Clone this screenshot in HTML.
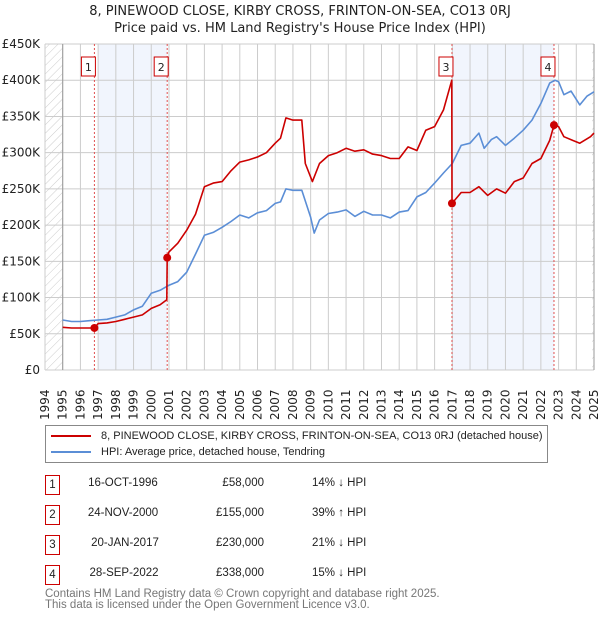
<!DOCTYPE html>
<html><head><meta charset="utf-8">
<style>
body{margin:0;background:#fff;font-family:"Liberation Sans","DejaVu Sans",sans-serif;}
#wrap{position:relative;width:600px;height:620px;overflow:hidden;}
svg text{font-family:"DejaVu Sans","Liberation Sans",sans-serif;}
.nw{white-space:nowrap;}
</style></head>
<body><div id="wrap">
<svg id="chart" width="600" height="620"></svg>
</div>
<script>
const hpiYears=[1995,1995.5,1996,1996.5,1997,1997.5,1998,1998.5,1999,1999.5,2000,2000.5,2001,2001.5,2002,2002.5,2003,2003.5,2004,2004.5,2005,2005.5,2006,2006.5,2007,2007.3,2007.6,2008,2008.5,2009,2009.2,2009.5,2010,2010.5,2011,2011.5,2012,2012.5,2013,2013.5,2014,2014.5,2015,2015.5,2016,2016.5,2017,2017.5,2018,2018.5,2018.8,2019.2,2019.5,2020,2020.5,2021,2021.5,2022,2022.5,2022.8,2023,2023.3,2023.7,2024.2,2024.6,2025];
const hpiValues=[69,67,67,68,69,70,73,76,83,88,106,110,117,122,135,160,186,190,197,205,214,210,217,220,230,232,250,248,248,211,189,207,216,218,221,212,219,214,214,210,218,220,239,245,258,272,285,310,313,327,306,318,322,310,320,331,345,368,396,400,398,380,385,366,378,384];
const priceYears=[1995,1995.5,1996,1996.5,1996.79,1997,1997.5,1998,1998.5,1999,1999.5,2000,2000.5,2000.88,2000.9,2001,2001.5,2002,2002.5,2003,2003.5,2004,2004.5,2005,2005.5,2006,2006.5,2007,2007.3,2007.6,2008,2008.5,2008.7,2009.1,2009.5,2010,2010.5,2011,2011.5,2012,2012.5,2013,2013.5,2014,2014.5,2015,2015.5,2016,2016.5,2016.97,2016.98,2017.5,2018,2018.5,2019,2019.5,2020,2020.5,2021,2021.5,2022,2022.5,2022.74,2023,2023.3,2023.8,2024.2,2024.8,2025];
const priceValues=[59,58,58,58,58,64,65,67,70,73,76,85,90,97,155,163,175,193,215,253,258,260,275,287,290,294,300,313,320,348,345,345,285,260,285,296,300,306,302,304,298,296,292,292,308,303,331,336,359,400,230,245,245,253,241,250,244,260,265,285,292,317,338,336,322,317,313,322,327];
const saleYears=[1996.79,2000.9,2016.98,2022.74];
const saleValues=[58,155,230,338];
const saleLabels=["1","2","3","4"];
const yTicks=[0,50,100,150,200,250,300,350,400,450];
const yTickLabels=["£0","£50K","£100K","£150K","£200K","£250K","£300K","£350K","£400K","£450K"];
const xTicks=[1994,1995,1996,1997,1998,1999,2000,2001,2002,2003,2004,2005,2006,2007,2008,2009,2010,2011,2012,2013,2014,2015,2016,2017,2018,2019,2020,2021,2022,2023,2024,2025];

const NS="http://www.w3.org/2000/svg";
const svg=document.getElementById('chart');
const X0=45,X1=594,Y0=370,Y1=44;
const xs=y=>X0+(y-1994)/(2025-1994)*(X1-X0);
const ys=v=>Y0-v/450*(Y0-Y1);
function mk(tag,attrs,parent){const e=document.createElementNS(NS,tag);for(const k in attrs)e.setAttribute(k,attrs[k]);(parent||svg).appendChild(e);return e;}

let t=mk('text',{x:300,y:15,'text-anchor':'middle','font-size':13,fill:'#222'});t.textContent="8, PINEWOOD CLOSE, KIRBY CROSS, FRINTON-ON-SEA, CO13 0RJ";


t=mk('text',{x:300,y:32,'text-anchor':'middle','font-size':13,fill:'#222'});t.textContent="Price paid vs. HM Land Registry's House Price Index (HPI)";



const defs=mk('defs',{});
const pat=mk('pattern',{id:'hatch',width:6,height:6,patternUnits:'userSpaceOnUse',patternTransform:'rotate(45)'},defs);
mk('line',{x1:0,y1:0,x2:0,y2:6,stroke:'#ccc','stroke-width':1},pat);
let r=mk('rect',{x:X0,y:Y1,width:xs(1995)-X0,height:Y0-Y1,fill:'url(#hatch)'});


r=mk('rect',{x:xs(2025)-2,y:Y1,width:2,height:Y0-Y1,fill:'url(#hatch)'});

[[1997,saleYears[1]],[saleYears[2],saleYears[3]]].forEach((b,i)=>{
 const s=mk('rect',{x:xs(b[0]),y:Y1,width:xs(b[1])-xs(b[0]),height:Y0-Y1,fill:'#eef3fc',opacity:0.8});
 
 
});

xTicks.forEach(y=>{
 const l=mk('line',{x1:xs(y),x2:xs(y),y1:Y1,y2:Y0,stroke:'#ccc','stroke-width':1});
 
 
 const tx=mk('text',{transform:`translate(${xs(y)+4},${Y0+50}) rotate(-90)`,'font-size':12,fill:'#222'});
 tx.textContent=y;
 
 
});
yTicks.forEach((v,i)=>{
 const l=mk('line',{x1:X0,x2:X1,y1:ys(v),y2:ys(v),stroke:'#ccc','stroke-width':1});
 
 
 const tx=mk('text',{x:X0-5,y:ys(v)+4,'text-anchor':'end','font-size':12,fill:'#222'});
 tx.textContent=yTickLabels[i];
 
 
});
mk('line',{x1:xs(1995),x2:xs(1995),y1:Y1,y2:Y0,stroke:'#999'});
mk('line',{x1:X1,x2:X1,y1:Y1,y2:Y0,stroke:'#999'});

saleYears.forEach((y,i)=>{
 const l=mk('line',{x1:xs(y),x2:xs(y),y1:Y1,y2:Y0,stroke:'#e05050','stroke-width':1,'stroke-dasharray':'2,2'});
 
 
 const bx=mk('rect',{x:xs(y)-13,y:57,width:14,height:19,fill:'#fff',stroke:'#c00'});
 
 
 const tx=mk('text',{x:xs(y)-6,y:71,'text-anchor':'middle','font-size':11,fill:'#222'});
 tx.textContent=saleLabels[i];
});

function path(xa,va,color,name){
 let d='';xa.forEach((y,i)=>{d+=(i?'L':'M')+xs(y).toFixed(1)+','+ys(va[i]).toFixed(1);});
 const p=mk('path',{d,fill:'none',stroke:color,'stroke-width':1.6,'stroke-linejoin':'round'});
 
 
}
path(hpiYears,hpiValues,'#5b8ed6','hpi-line');
path(priceYears,priceValues,'#cc0000','price-paid-line');
saleYears.forEach((y,i)=>{
 const c=mk('circle',{cx:xs(y),cy:ys(saleValues[i]),r:4,fill:'#cc0000'});
 
 
});
</script>
<div style="position:absolute;left:45px;top:425px;width:501px;height:36px;border:1px solid #888;font-size:11px;color:#222;">
 <div class="nw" style="position:absolute;left:5px;top:4px;"><span style="display:inline-block;width:40px;height:2px;background:#cc0000;vertical-align:middle;margin-right:10px;"></span>8, PINEWOOD CLOSE, KIRBY CROSS, FRINTON-ON-SEA, CO13 0RJ (detached house)</div>
 <div class="nw" style="position:absolute;left:5px;top:20px;"><span style="display:inline-block;width:40px;height:2px;background:#5b8ed6;vertical-align:middle;margin-right:10px;"></span>HPI: Average price, detached house, Tendring</div>
</div>
<div style="position:absolute;left:0;top:0;font-size:11.5px;color:#222;">
 <div>
  <div style="position:absolute;left:45px;top:475px;width:13px;height:18px;border:1px solid #c00;text-align:center;line-height:18px;">1</div>
  <div class="nw" style="position:absolute;left:83px;top:477px;width:80px;text-align:center;">16-OCT-1996</div>
  <div class="nw" style="position:absolute;left:184px;top:477px;width:80px;text-align:right;">£58,000</div>
  <div class="nw" style="position:absolute;left:312px;top:477px;">14% ↓ HPI</div>
 </div>
 <div>
  <div style="position:absolute;left:45px;top:505px;width:13px;height:18px;border:1px solid #c00;text-align:center;line-height:18px;">2</div>
  <div class="nw" style="position:absolute;left:83px;top:507px;width:80px;text-align:center;">24-NOV-2000</div>
  <div class="nw" style="position:absolute;left:184px;top:507px;width:80px;text-align:right;">£155,000</div>
  <div class="nw" style="position:absolute;left:312px;top:507px;">39% ↑ HPI</div>
 </div>
 <div>
  <div style="position:absolute;left:45px;top:535px;width:13px;height:18px;border:1px solid #c00;text-align:center;line-height:18px;">3</div>
  <div class="nw" style="position:absolute;left:85px;top:537px;width:80px;text-align:center;">20-JAN-2017</div>
  <div class="nw" style="position:absolute;left:184px;top:537px;width:80px;text-align:right;">£230,000</div>
  <div class="nw" style="position:absolute;left:312px;top:537px;">21% ↓ HPI</div>
 </div>
 <div>
  <div style="position:absolute;left:45px;top:565px;width:13px;height:18px;border:1px solid #c00;text-align:center;line-height:18px;">4</div>
  <div class="nw" style="position:absolute;left:84px;top:567px;width:80px;text-align:center;">28-SEP-2022</div>
  <div class="nw" style="position:absolute;left:184px;top:567px;width:80px;text-align:right;">£338,000</div>
  <div class="nw" style="position:absolute;left:312px;top:567px;">15% ↓ HPI</div>
 </div>
</div>
<div style="position:absolute;left:45px;top:589px;font-size:11.5px;color:#777;line-height:11px;white-space:nowrap;">Contains HM Land Registry data © Crown copyright and database right 2025.<br>This data is licensed under the Open Government Licence v3.0.</div>
</body></html>
